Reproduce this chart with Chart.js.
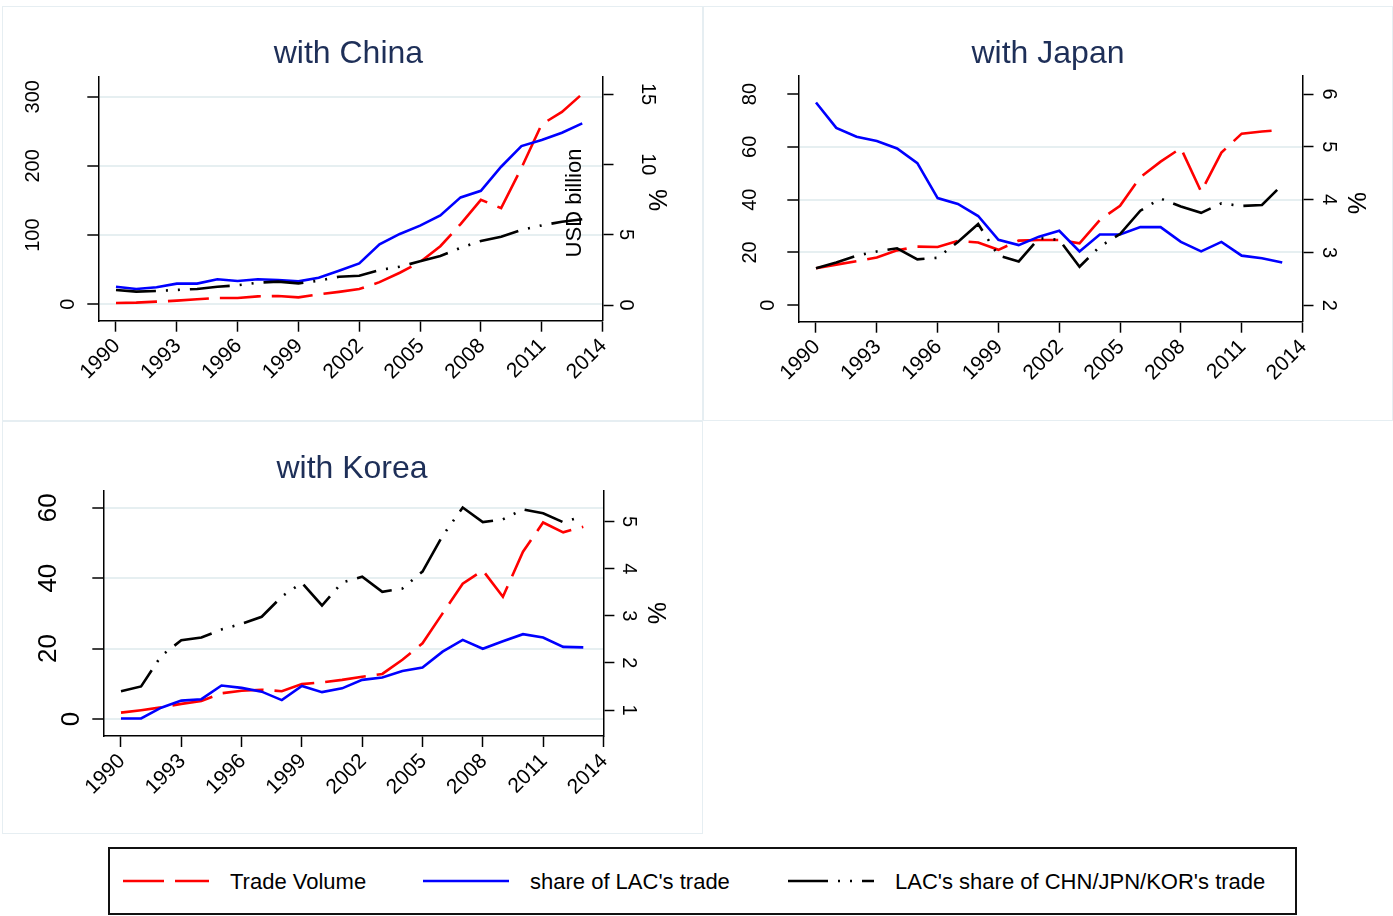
<!DOCTYPE html>
<html lang="en">
<head>
<meta charset="UTF-8">
<title>LAC trade with China, Japan and Korea</title>
<style>
  body { margin: 0; background: #fff; width: 1393px; height: 916px; position: relative; overflow: hidden;
         font-family: "Liberation Sans", Arial, sans-serif; }
  .frame { position: absolute; box-sizing: border-box; border: 1px solid #e6eef2; }
  canvas.panel { position: absolute; }
  .legend { position: absolute; left: 108px; top: 847px; width: 1189px; height: 68px; box-sizing: border-box;
            border: 2px solid #111; }
  .key { position: absolute; }
  .keytext { position: absolute; font-size: 22px; line-height: 24px; color: #000; white-space: nowrap; }
</style>
</head>
<body>
  <div class="frame" style="left:2px;top:6px;width:701px;height:415px"></div>
  <div class="frame" style="left:703px;top:6px;width:690px;height:415px"></div>
  <div class="frame" style="left:2px;top:421px;width:701px;height:413px"></div>

  <canvas class="panel" id="china" width="700" height="414" style="left:2px;top:6px"></canvas>
  <canvas class="panel" id="japan" width="689" height="414" style="left:704px;top:6px"></canvas>
  <canvas class="panel" id="korea" width="700" height="411" style="left:2px;top:422px"></canvas>

  <div class="legend"></div>
  <canvas class="key" id="keyVolume" width="86" height="8" style="left:123px;top:877px"></canvas>
  <span class="keytext" style="left:230px;top:870px">Trade Volume</span>
  <canvas class="key" id="keyLAC" width="86" height="8" style="left:423px;top:877px"></canvas>
  <span class="keytext" style="left:530px;top:870px">share of LAC's trade</span>
  <canvas class="key" id="keyAsia" width="86" height="8" style="left:788px;top:877px"></canvas>
  <span class="keytext" style="left:895px;top:870px">LAC's share of CHN/JPN/KOR's trade</span>

<script src="https://cdn.jsdelivr.net/npm/chart.js"></script>
<script>
const years = [1990, 1991, 1992, 1993, 1994, 1995, 1996, 1997, 1998, 1999, 2000, 2001,
               2002, 2003, 2004, 2005, 2006, 2007, 2008, 2009, 2010, 2011, 2012, 2013];
const xTicks = [1990, 1993, 1996, 1999, 2002, 2005, 2008, 2011, 2014];

// with China: volume in USD billion, shares in %
const chinaVolume = [1.9, 2.4, 3.8, 5.3, 7.2, 9.1, 9.1, 11.5, 12, 10, 14.4, 18,
                     22, 32, 45.6, 61, 84, 116, 151, 139, 197, 260, 278, 304];
const chinaShareLAC = [1.30, 1.14, 1.26, 1.52, 1.52, 1.83, 1.71, 1.83, 1.78, 1.68, 1.94, 2.44,
                       2.96, 4.31, 5.05, 5.64, 6.37, 7.65, 8.12, 9.83, 11.3, 11.73, 12.25, 12.91];
const chinaShareAsia = [1.07, 0.95, 1.0, 1.07, 1.14, 1.30, 1.40, 1.59, 1.66, 1.54, 1.73, 2.01,
                        2.08, 2.49, 2.72, 3.11, 3.48, 4.07, 4.55, 4.85, 5.33, 5.66, 5.92, 6.1];
const chinaLeftTicks = [0, 100, 200, 300];
const chinaRightTicks = [0, 5, 10, 15];

// with Japan
const japanVolume = [14.0, 15.4, 16.7, 18.1, 20.8, 22.2, 22.1, 24.4, 23.8, 21.0, 24.5, 24.7,
                     24.7, 23.5, 32.3, 37.7, 48.5, 54.4, 59.5, 43.0, 57.8, 65.0, 65.8, 66.4];
const japanShareLAC = [5.84, 5.36, 5.19, 5.11, 4.97, 4.69, 4.03, 3.92, 3.69, 3.24, 3.14, 3.30,
                       3.41, 3.02, 3.34, 3.34, 3.48, 3.48, 3.20, 3.02, 3.20, 2.94, 2.89, 2.81];
const japanShareAsia = [2.70, 2.81, 2.94, 3.02, 3.08, 2.87, 2.90, 3.20, 3.54, 2.94, 2.83, 3.27,
                        3.24, 2.73, 3.11, 3.35, 3.79, 4.02, 3.87, 3.75, 3.93, 3.88, 3.90, 4.28];
const japanLeftTicks = [0, 20, 40, 60, 80];
const japanRightTicks = [2, 3, 4, 5, 6];

// with Korea
const koreaVolume = [1.8, 2.5, 3.3, 4.3, 5.1, 7.3, 8.0, 8.3, 7.9, 9.9, 10.4, 11.1,
                     12.0, 12.8, 16.8, 21.5, 30.0, 38.4, 42.2, 34.7, 47.5, 55.8, 53.0, 54.6];
const koreaShareLAC = [0.82, 0.82, 1.05, 1.20, 1.23, 1.52, 1.47, 1.39, 1.21, 1.51, 1.38, 1.46,
                       1.64, 1.69, 1.83, 1.90, 2.24, 2.49, 2.30, 2.46, 2.61, 2.54, 2.34, 2.33];
const koreaShareAsia = [1.40, 1.50, 2.15, 2.48, 2.54, 2.71, 2.83, 2.98, 3.41, 3.70, 3.22, 3.71,
                        3.83, 3.51, 3.58, 3.94, 4.70, 5.30, 4.99, 5.05, 5.26, 5.18, 4.99, 5.12];
const koreaLeftTicks = [0, 20, 40, 60];
const koreaRightTicks = [1, 2, 3, 4, 5];

const FONT = '"Liberation Sans", Arial, sans-serif';
const GRID = '#e6eff1';
const VOLUME_DASH = [41, 11];
const ASIA_DASH = [40, 10, 2, 10, 2, 10];
const LINE_W = 2.6;

function drawRotated(ctx, text, x, y, angle) {
  ctx.save();
  ctx.translate(x, y);
  ctx.rotate(angle);
  ctx.fillText(text, 0, 0);
  ctx.restore();
}

// titles, rotated y tick labels and axis titles
const panelText = {
  id: 'panelText',
  afterDraw(chart, args, o) {
    const ctx = chart.ctx;
    const area = chart.chartArea;
    const yL = chart.scales.yL, yR = chart.scales.yR;
    ctx.save();
    ctx.fillStyle = '#1e2f58';
    ctx.font = '32px ' + FONT;
    ctx.textAlign = 'center';
    ctx.textBaseline = 'alphabetic';
    ctx.fillText(o.title, o.titleX, o.titleY);

    ctx.fillStyle = '#000';
    ctx.textBaseline = 'middle';
    ctx.font = o.leftFont + 'px ' + FONT;
    yL.ticks.forEach(t => {
      const s = String(t.value);
      const x = area.left - o.leftBase - o.leftStep * (s.length - 1);
      drawRotated(ctx, s, x, yL.getPixelForValue(t.value), -Math.PI / 2);
    });
    ctx.font = '20px ' + FONT;
    yR.ticks.forEach(t => {
      const s = String(t.value);
      const x = area.right + o.rightBase + o.rightStep * (s.length - 1);
      drawRotated(ctx, s, x, yR.getPixelForValue(t.value), Math.PI / 2);
    });
    ctx.font = '25px ' + FONT;
    drawRotated(ctx, '%', o.pctX, o.pctY, Math.PI / 2);
    if (o.unitText) {
      ctx.font = '22px ' + FONT;
      drawRotated(ctx, o.unitText, o.unitX, o.unitY, -Math.PI / 2);
    }
    ctx.restore();
  }
};

function makeChart(id, p) {
  const pts = arr => years.map((y, i) => ({x: y, y: arr[i]}));
  const axisLine = {color: '#000', width: 1.5};
  return new Chart(document.getElementById(id), {
    type: 'line',
    data: {
      datasets: [
        {label: 'Trade Volume', data: pts(p.volume), yAxisID: 'yL', borderColor: '#ff0000',
         borderDash: VOLUME_DASH, order: 3},
        {label: "share of LAC's trade", data: pts(p.shareLAC), yAxisID: 'yR', borderColor: '#0000ff', order: 2},
        {label: "LAC's share of CHN/JPN/KOR's trade", data: pts(p.shareAsia), yAxisID: 'yR', borderColor: '#000',
         borderDash: ASIA_DASH, order: 1}
      ]
    },
    options: {
      responsive: false,
      animation: false,
      layout: {padding: {top: p.top, left: 0, right: 0, bottom: 0}},
      elements: {
        point: {radius: 0},
        line: {borderWidth: LINE_W, tension: 0, borderCapStyle: 'butt', borderJoinStyle: 'miter', fill: false}
      },
      plugins: {
        legend: {display: false},
        tooltip: {enabled: false},
        title: {display: false},
        panelText: p.text
      },
      scales: {
        x: {
          type: 'linear', min: p.xMin, max: 2014,
          afterBuildTicks: s => { s.ticks = xTicks.map(v => ({value: v})); },
          afterFit: s => { s.height = p.xHeight; },
          ticks: {font: {size: 21, family: FONT}, color: '#000', minRotation: 45, maxRotation: 45,
                  autoSkip: false, padding: 2, labelOffset: 1, callback: v => String(v)},
          grid: {drawOnChartArea: false, tickLength: 11, tickColor: '#000', tickWidth: 1.5},
          border: axisLine
        },
        yL: {
          position: 'left', min: p.leftMin, max: p.leftMax,
          afterBuildTicks: s => { s.ticks = p.leftTicks.map(v => ({value: v})); },
          afterFit: s => { s.width = p.leftWidth; },
          ticks: {display: false},
          grid: {color: c => (c.tick && p.gridAt.includes(c.tick.value)) ? GRID : 'rgba(0,0,0,0)',
                 lineWidth: 2, tickLength: 11, tickColor: '#000', tickWidth: 1.5},
          border: axisLine
        },
        yR: {
          position: 'right', min: p.rightMin, max: p.rightMax,
          afterBuildTicks: s => { s.ticks = p.rightTicks.map(v => ({value: v})); },
          afterFit: s => { s.width = p.rightWidth; },
          ticks: {display: false},
          grid: {drawOnChartArea: false, tickLength: 11, tickColor: '#000', tickWidth: 1.5},
          border: axisLine
        }
      }
    },
    plugins: [panelText]
  });
}

makeChart('china', {
  volume: chinaVolume, shareLAC: chinaShareLAC, shareAsia: chinaShareAsia,
  leftTicks: chinaLeftTicks, rightTicks: chinaRightTicks, gridAt: [0, 100, 200, 300],
  top: 70.7, leftWidth: 96.3, rightWidth: 99.5, xHeight: 99.3, xMin: 1989.127,
  leftMin: -23.7, leftMax: 328.9, rightMin: -1.116, rightMax: 16.23,
  text: {title: 'with China', titleX: 346.4, titleY: 57.3, leftFont: 20, leftBase: 30, leftStep: 17.5,
         rightBase: 23.5, rightStep: 22, pctX: 654, pctY: 194,
         unitText: 'USD billion', unitX: 573, unitY: 197}
});

makeChart('japan', {
  volume: japanVolume, shareLAC: japanShareLAC, shareAsia: japanShareAsia,
  leftTicks: japanLeftTicks, rightTicks: japanRightTicks, gridAt: [20, 40, 60],
  top: 70, leftWidth: 94.3, rightWidth: 90.5, xHeight: 98.3, xMin: 1989.127,
  leftMin: -6.21, leftMax: 86.82, rightMin: 1.6895, rightMax: 6.341,
  text: {title: 'with Japan', titleX: 344, titleY: 57.3, leftFont: 20, leftBase: 30.3, leftStep: 17.5,
         rightBase: 26.5, rightStep: 22, pctX: 651, pctY: 197}
});

makeChart('korea', {
  volume: koreaVolume, shareLAC: koreaShareLAC, shareAsia: koreaShareAsia,
  leftTicks: koreaLeftTicks, rightTicks: koreaRightTicks, gridAt: [0, 20, 40, 60],
  top: 68.7, leftWidth: 101.3, rightWidth: 98.6, xHeight: 97, xMin: 1989.12,
  leftMin: -4.83, leftMax: 64.83, rightMin: 0.448, rightMax: 5.658,
  text: {title: 'with Korea', titleX: 350, titleY: 56, leftFont: 26, leftBase: 31.9, leftStep: 22.4,
         rightBase: 25.6, rightStep: 22, pctX: 653, pctY: 191}
});

// legend keys share the line styles of the series
function drawKey(id, color, dash) {
  const ctx = document.getElementById(id).getContext('2d');
  ctx.strokeStyle = color;
  ctx.lineWidth = LINE_W;
  ctx.setLineDash(dash);
  ctx.beginPath();
  ctx.moveTo(0, 4);
  ctx.lineTo(86, 4);
  ctx.stroke();
}
drawKey('keyVolume', '#ff0000', VOLUME_DASH);
drawKey('keyLAC', '#0000ff', []);
drawKey('keyAsia', '#000', ASIA_DASH);
</script>
</body>
</html>
